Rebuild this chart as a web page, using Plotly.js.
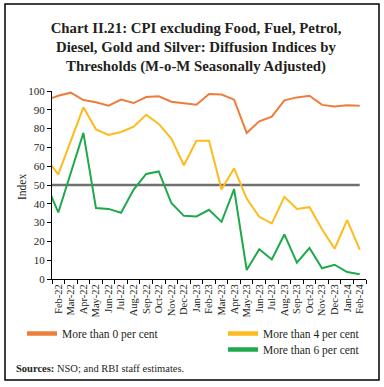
<!DOCTYPE html>
<html>
<head>
<meta charset="utf-8">
<script src="https://cdn.plot.ly/plotly-3.0.1.min.js"></script>
<style>html,body{margin:0;padding:0;background:#fff;}#chart{width:384px;height:387px;}</style>
</head>
<body>
<div id="chart"></div>
<script>
// Categories (Jan-22 lies just left of the axis and is clipped, as in the source chart)
const months = ["Jan-22","Feb-22","Mar-22","Apr-22","May-22","Jun-22","Jul-22","Aug-22","Sep-22","Oct-22","Nov-22","Dec-22",
  "Jan-23","Feb-23","Mar-23","Apr-23","May-23","Jun-23","Jul-23","Aug-23","Sep-23","Oct-23","Nov-23","Dec-23","Jan-24","Feb-24"];
const moreThan0 = [95.1,97.5,99.1,95.2,94.0,92.2,95.4,93.6,96.8,97.2,94.3,93.6,92.7,98.4,98.1,95.4,77.7,83.9,86.4,95.0,96.6,97.5,92.6,91.7,92.4,92.2];
const moreThan4 = [64.4,55.6,73.5,91.3,79.6,76.6,78.2,81.0,87.4,82.5,74.7,60.5,73.5,73.5,47.6,58.9,42.8,33.1,29.6,43.7,37.2,38.2,26.5,16.1,31.3,15.6];
const moreThan6 = [51.0,35.4,56.5,77.7,37.7,37.3,35.2,47.6,55.9,57.2,40.4,33.6,33.3,36.8,30.4,47.8,4.8,15.8,10.4,23.7,8.7,16.5,5.7,7.6,3.7,2.5];
const threshold = months.map(() => 50);
const tickLabels = months.slice(1);
const seriesNames = ["More than 0 per cent","More than 4 per cent","More than 6 per cent"];
const yTitle = "Index";

const colors = ["#EE7D3B","#FDBB1E","#20A84C"];
const serif = "Liberation Serif, Times New Roman, serif";

const W = 384, H = 387;
const M = {l: 52, r: 18, t: 91, b: 108, autoexpand: false};
const pw = W - M.l - M.r, ph = H - M.t - M.b;
const px = v => (v - M.l) / pw;
const py = v => (H - M.b - v) / ph;

const data = [
  {x: months, y: threshold, type: "scatter", mode: "lines", line: {color: "#707070", width: 2.6}, showlegend: false, hoverinfo: "skip"},
  {x: months, y: moreThan0, type: "scatter", mode: "lines", line: {color: colors[0], width: 2}, showlegend: false},
  {x: months, y: moreThan4, type: "scatter", mode: "lines", line: {color: colors[1], width: 2}, showlegend: false},
  {x: months, y: moreThan6, type: "scatter", mode: "lines", line: {color: colors[2], width: 2}, showlegend: false},
  // legend keys
  {x: [null], y: [null], type: "scatter", mode: "lines", name: seriesNames[0], line: {color: colors[0], width: 4.5}, legend: "legend"},
  {x: [null], y: [null], type: "scatter", mode: "lines", name: seriesNames[1], line: {color: colors[1], width: 4.5}, legend: "legend2"},
  {x: [null], y: [null], type: "scatter", mode: "lines", name: seriesNames[2], line: {color: colors[2], width: 4.5}, legend: "legend3"}
];

const legFont = {family: serif, size: 11.5, color: "#231F20"};
const legBase = {xref: "container", yref: "container", xanchor: "left", yanchor: "top",
  font: legFont, bgcolor: "rgba(0,0,0,0)", borderwidth: 0};
const layout = {
  width: W, height: H,
  margin: M,
  paper_bgcolor: "#fff", plot_bgcolor: "#fff",
  font: {family: serif, color: "#231F20"},
  title: {
    text: "<b>Chart II.21: CPI excluding Food, Fuel, Petrol,<br>Diesel, Gold and Silver: Diffusion Indices by<br>Thresholds (M-o-M Seasonally Adjusted)</b>",
    font: {family: serif, size: 14.8, color: "#231F20"},
    x: 196 / W, xref: "container", xanchor: "center",
    y: 1, yref: "paper", yanchor: "bottom", pad: {b: 58}
  },
  xaxis: {
    type: "category", range: [0.5, 25.5],
    tickmode: "array", tickvals: tickLabels, ticktext: tickLabels,
    showline: true, linecolor: "#000", linewidth: 1,
    ticks: "outside", tickson: "boundaries", ticklen: 4, tickcolor: "#000",
    tickangle: -90, tickfont: {family: serif, size: 10.5, color: "#231F20"},
    showgrid: false, zeroline: false, fixedrange: true, automargin: false
  },
  yaxis: {
    range: [0, 100], dtick: 10,
    showline: true, linecolor: "#000", linewidth: 1,
    ticks: "outside", ticklen: 4, tickcolor: "#000",
    tickfont: {family: serif, size: 11, color: "#231F20"},
    showgrid: false, zeroline: false, fixedrange: true, automargin: false
  },
  legend: Object.assign({}, legBase, {x: 22 / W, y: 1 - 319 / H}),
  legend2: Object.assign({}, legBase, {x: 223 / W, y: 1 - 319 / H}),
  legend3: Object.assign({}, legBase, {x: 223 / W, y: 1 - 335 / H}),
  annotations: [{
    xref: "paper", yref: "paper", x: px(14), y: py(368), xanchor: "left", yanchor: "middle",
    text: "<b>Sources:</b> NSO; and RBI staff estimates.", showarrow: false,
    font: {family: serif, size: 10.5, color: "#231F20"}
  }, {
    xref: "paper", yref: "paper", x: px(22), y: py(187), xanchor: "center", yanchor: "middle",
    text: yTitle, textangle: -90, showarrow: false,
    font: {family: serif, size: 11.5, color: "#231F20"}
  }],
  shapes: [{
    type: "rect", xref: "paper", yref: "paper",
    x0: px(5), x1: px(379), y0: py(380), y1: py(4),
    line: {color: "#000", width: 1.5}, fillcolor: "rgba(0,0,0,0)", layer: "below"
  }],
  showlegend: true
};

Plotly.newPlot("chart", data, layout, {displayModeBar: false, staticPlot: true});
</script>
</body>
</html>
